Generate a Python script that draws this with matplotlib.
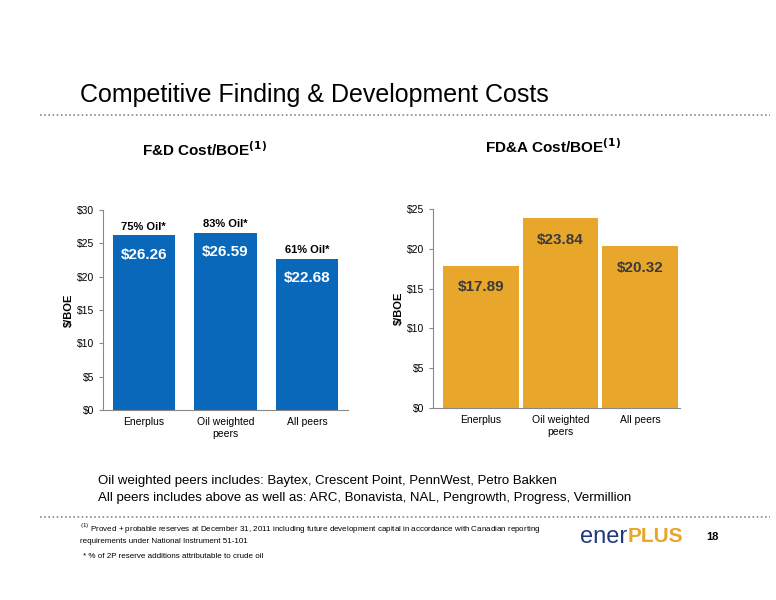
import matplotlib.pyplot as plt
from matplotlib.lines import Line2D

categories = ["Enerplus", "Oil weighted\npeers", "All peers"]
fd_cost = [26.26, 26.59, 22.68]
fda_cost = [17.89, 23.84, 20.32]
oil_pct = ["75% Oil*", "83% Oil*", "61% Oil*"]

blue = "#0a68bb"
gold = "#e8a72b"
plt.rcParams['font.family'] = ['Liberation Sans', 'DejaVu Sans']

fig = plt.figure(figsize=(7.76, 6.0), dpi=100)

fig.text(80/776, 1 - 95/600, "Competitive Finding & Development Costs", fontsize=18, va="center")
for y in (115, 517):
    fig.add_artist(Line2D([40/776, 770/776], [1 - y/600] * 2, color="#888888",
                          linestyle=(0, (1, 1.5)), lw=1.2))

def style(ax):
    for s in ("top", "right"):
        ax.spines[s].set_visible(False)
    for s in ("left", "bottom"):
        ax.spines[s].set_color("#888888")
    ax.tick_params(axis="y", length=3, color="#888888", labelsize=7.5)
    ax.tick_params(axis="x", length=0, labelsize=7.5, pad=5)
    ax.set_ylabel("$/BOE", fontsize=8, fontweight="bold", labelpad=2)

# left chart
ax1 = fig.add_axes([103/776, 1 - 410/600, 245/776, 200/600])
x = range(len(categories))
ax1.bar(x, fd_cost, width=0.76, color=blue)
ax1.set_ylim(0, 30)
ax1.set_xlim(-0.5, 2.5)
ax1.set_yticks(range(0, 31, 5))
ax1.set_yticklabels([f"${v}" for v in range(0, 31, 5)])
ax1.set_xticks(list(x))
ax1.set_xticklabels(categories)
for i, v in enumerate(fd_cost):
    ax1.text(i, v - 1.9, f"${v:.2f}", ha="center", va="top", color="white",
             fontsize=11, fontweight="bold")
    ax1.text(i, v + 0.5, oil_pct[i], ha="center", va="bottom", fontsize=8, fontweight="bold")
style(ax1)
fig.text(205/776, 1 - 150/600, "F&D Cost/BOE$^{\\mathbf{(1)}}$", fontsize=11,
         fontweight="bold", ha="center", va="center")

# right chart
ax2 = fig.add_axes([433/776, 1 - 408/600, 247/776, 199/600])
ax2.bar(x, fda_cost, width=0.95, color=gold)
ax2.set_ylim(0, 25)
ax2.set_xlim(-0.6, 2.5)
ax2.set_yticks(range(0, 26, 5))
ax2.set_yticklabels([f"${v}" for v in range(0, 26, 5)])
ax2.set_xticks(list(x))
ax2.set_xticklabels(categories)
for i, v in enumerate(fda_cost):
    ax2.text(i, v - 1.8, f"${v:.2f}", ha="center", va="top", color="#3a3a3a",
             fontsize=11, fontweight="bold")
style(ax2)
fig.text(553/776, 1 - 147/600, "FD&A Cost/BOE$^{\\mathbf{(1)}}$", fontsize=11,
         fontweight="bold", ha="center", va="center")

fig.text(98/776, 1 - 481/600, "Oil weighted peers includes: Baytex, Crescent Point, PennWest, Petro Bakken",
         fontsize=9.5, va="center")
fig.text(98/776, 1 - 498/600, "All peers includes above as well as: ARC, Bonavista, NAL, Pengrowth, Progress, Vermillion",
         fontsize=9.5, va="center")
fig.text(80/776, 1 - 533/600, "$^{(1)}$ Proved + probable reserves at December 31, 2011 including future development capital in accordance with Canadian reporting\nrequirements under National Instrument 51-101",
         fontsize=5.8, va="center", linespacing=1.4)
fig.text(83/776, 1 - 556/600, "* % of 2P reserve additions attributable to crude oil", fontsize=5.8, va="center")
fig.text(580/776, 1 - 537/600, "ener", fontsize=17, color="#1f3a7a", va="center")
fig.text(628/776, 1 - 537/600, "PLUS", fontsize=15, color=gold, fontweight="bold", va="center")
fig.text(706/776, 1 - 537/600, "18", fontsize=8, fontweight="bold", va="center")

fig.savefig("out.png", dpi=100)
